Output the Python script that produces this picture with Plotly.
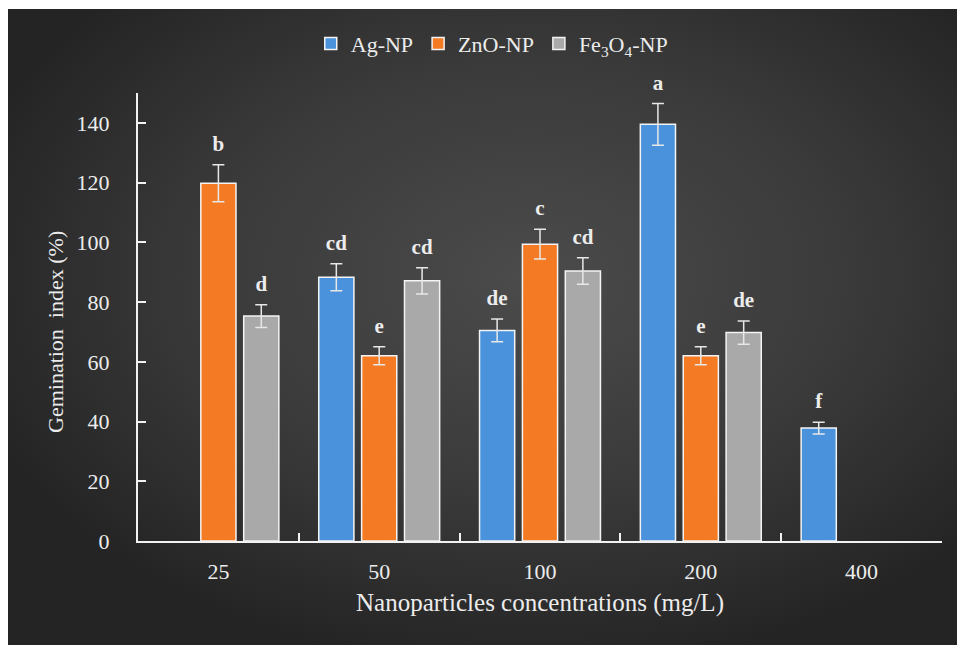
import base64
import plotly.graph_objects as go

# Germination index by nanoparticle type and concentration
concentrations = ["25", "50", "100", "200", "400"]

ag_values = [None, 88.3, 70.5, 139.5, 37.8]
ag_errors = [None, 4.5, 3.8, 7.0, 2.0]
ag_letters = ["", "cd", "de", "a", "f"]

zno_values = [119.8, 62.0, 99.4, 62.0, None]
zno_errors = [6.2, 3.0, 5.0, 3.0, None]
zno_letters = ["b", "e", "c", "e", ""]

fe_values = [75.3, 87.1, 90.4, 69.8, None]
fe_errors = [3.8, 4.4, 4.4, 3.9, None]
fe_letters = ["d", "cd", "cd", "de", ""]

series = [
    ("Ag-NP", ag_values, ag_errors, ag_letters, "#4a92dc"),
    ("ZnO-NP", zno_values, zno_errors, zno_letters, "#f47a24"),
    ("Fe<sub>3</sub>O<sub>4</sub>-NP", fe_values, fe_errors, fe_letters, "#a9a9a9"),
]

W, H = 957, 645
ML, MR, MT, MB = 138, 15, 93, 104
PW, PH = W - ML - MR, H - MT - MB

SERIF = "Liberation Serif, Times New Roman, serif"
TEXT = "#ececec"

fig = go.Figure()

for name, vals, errs, _, color in series:
    fig.add_trace(go.Bar(
        name=name,
        x=concentrations,
        y=vals,
        marker=dict(color=color, line=dict(color="#f4f4f4", width=1.5)),
        error_y=dict(type="data", array=errs, visible=True,
                     color="#e8e8e8", thickness=1.5, width=6),
    ))

# significance letters sitting above each error bar
for name, vals, errs, letters, _ in series:
    tops = [None if v is None else v + e for v, e in zip(vals, errs)]
    fig.add_trace(go.Scatter(
        x=concentrations,
        y=tops,
        mode="markers+text",
        marker=dict(size=12, opacity=0),
        text=letters,
        textposition="top center",
        textfont=dict(family=SERIF, size=21, color=TEXT, weight="bold"),
        cliponaxis=False,
        showlegend=False,
        hoverinfo="skip",
    ))

# dark radial backdrop
bw, bh = 949, 636
svg = (
    f'<svg xmlns="http://www.w3.org/2000/svg" width="{bw}" height="{bh}" '
    f'viewBox="0 0 {bw} {bh}" preserveAspectRatio="none">'
    '<defs><radialGradient id="g" cx="0.55" cy="0.42" r="0.62">'
    '<stop offset="0" stop-color="#4b4b4b"/>'
    '<stop offset="0.55" stop-color="#3a3a3a"/>'
    '<stop offset="1" stop-color="#242424"/>'
    '</radialGradient></defs>'
    f'<rect width="{bw}" height="{bh}" fill="url(#g)"/></svg>'
)
src = "data:image/svg+xml;base64," + base64.b64encode(svg.encode()).decode()

fig.add_layout_image(dict(
    source=src, xref="paper", yref="paper",
    x=(8 - ML) / PW, y=(H - MB - 9) / PH,
    sizex=bw / PW, sizey=bh / PH,
    xanchor="left", yanchor="top", sizing="stretch", layer="below",
))

# vertical axis title
fig.add_annotation(
    text="Gemination  index (%)", textangle=-90,
    xref="paper", yref="paper", x=(55 - ML) / PW, y=(H - MB - 332) / PH,
    xanchor="center", yanchor="middle", showarrow=False,
    font=dict(family=SERIF, size=22, color=TEXT),
)

fig.update_layout(
    width=W, height=H,
    margin=dict(l=ML, r=MR, t=MT, b=MB),
    paper_bgcolor="white",
    plot_bgcolor="rgba(0,0,0,0)",
    barmode="group",
    bargap=0.2,
    bargroupgap=0.18,
    scattermode="group",
    scattergap=0.2,
    font=dict(family=SERIF, size=22, color=TEXT),
    legend=dict(
        orientation="h", x=0.44, xanchor="center", y=1.11, yanchor="middle",
        font=dict(family=SERIF, size=22, color=TEXT),
        bgcolor="rgba(0,0,0,0)", itemwidth=30, traceorder="normal",
    ),
    xaxis=dict(
        type="category",
        tickson="boundaries", ticks="inside", ticklen=8, tickwidth=2, tickcolor="#f2f2f2",
        showline=True, linecolor="#f2f2f2", linewidth=2,
        showgrid=False, zeroline=False, ticklabelstandoff=10,
        tickfont=dict(family=SERIF, size=22, color=TEXT),
        title=dict(text="Nanoparticles concentrations (mg/L)", standoff=10,
                   font=dict(family=SERIF, size=25, color=TEXT)),
    ),
    yaxis=dict(
        range=[0, 150],
        tickvals=[0, 20, 40, 60, 80, 100, 120, 140],
        ticks="inside", ticklen=8, tickwidth=2, tickcolor="#f2f2f2",
        showline=True, linecolor="#f2f2f2", linewidth=2,
        showgrid=False, zeroline=False, ticklabelstandoff=22,
        tickfont=dict(family=SERIF, size=22, color=TEXT),
    ),
)

fig.write_html("out.html")
